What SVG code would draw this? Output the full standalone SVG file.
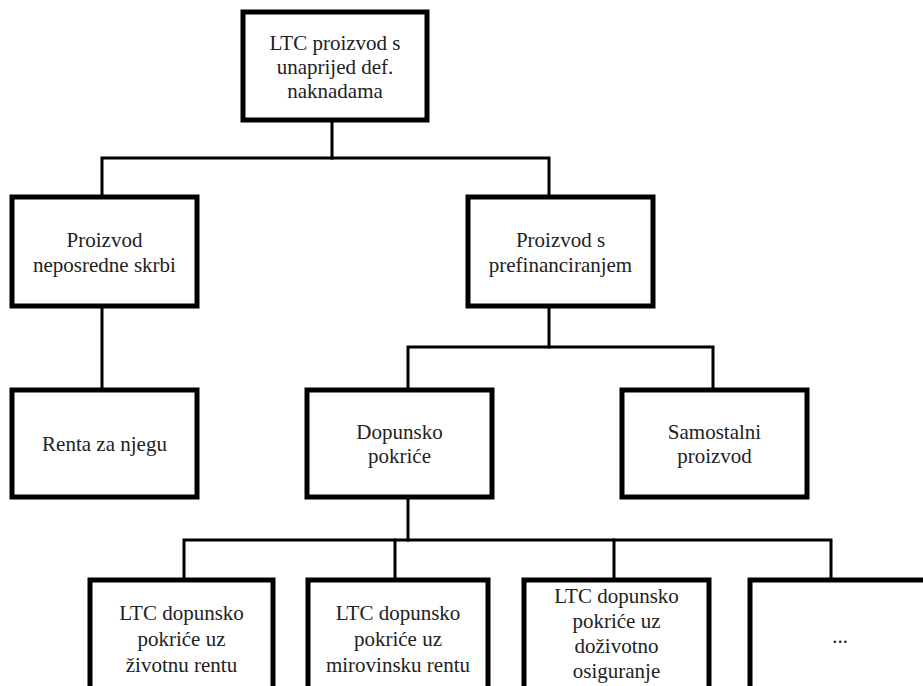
<svg xmlns="http://www.w3.org/2000/svg" width="923" height="686" viewBox="0 0 923 686">
<style>
.box{fill:#fff;stroke:#000;stroke-width:5}
.t{font-family:"Liberation Serif","Times New Roman",serif;font-size:21px;fill:#222;text-anchor:middle}
.c{fill:none;stroke:#000;stroke-width:3;stroke-linecap:square;stroke-linejoin:miter}
</style>
<rect width="923" height="686" fill="#fff"/>
<g id="connectors">
<polyline class="c" points="332,120 332,158"/>
<polyline class="c" points="102,197 102,158 549,158 549,197"/>
<polyline class="c" points="102,306 102,390"/>
<polyline class="c" points="549,306 549,347"/>
<polyline class="c" points="408,390 408,347 713,347 713,390"/>
<polyline class="c" points="408,497 408,540"/>
<polyline class="c" points="184,580 184,540 831,540 831,580"/>
<polyline class="c" points="395,540 395,580"/>
<polyline class="c" points="614,540 614,580"/>
</g>
<g id="root">
<rect class="box" x="243" y="12" width="184" height="108"/>
<text class="t" x="335" y="50">LTC proizvod s</text>
<text class="t" x="335" y="74">unaprijed def.</text>
<text class="t" x="335" y="98">naknadama</text>
</g>
<g id="neposredne">
<rect class="box" x="12" y="197" width="185" height="109"/>
<text class="t" x="104.5" y="247">Proizvod</text>
<text class="t" x="104.5" y="272">neposredne skrbi</text>
</g>
<g id="prefinanciranje">
<rect class="box" x="468" y="197" width="185" height="109"/>
<text class="t" x="560.5" y="247">Proizvod s</text>
<text class="t" x="560.5" y="272">prefinanciranjem</text>
</g>
<g id="renta">
<rect class="box" x="12" y="390" width="185" height="107"/>
<text class="t" x="104.5" y="451">Renta za njegu</text>
</g>
<g id="dopunsko">
<rect class="box" x="307" y="390" width="185" height="107"/>
<text class="t" x="399.5" y="439">Dopunsko</text>
<text class="t" x="399.5" y="463">pokriće</text>
</g>
<g id="samostalni">
<rect class="box" x="622" y="390" width="185" height="107"/>
<text class="t" x="714.5" y="439">Samostalni</text>
<text class="t" x="714.5" y="463">proizvod</text>
</g>
<g id="zivotna">
<rect class="box" x="90" y="580" width="183" height="115"/>
<text class="t" x="181.5" y="620">LTC dopunsko</text>
<text class="t" x="181.5" y="646">pokriće uz</text>
<text class="t" x="181.5" y="672">životnu rentu</text>
</g>
<g id="mirovinska">
<rect class="box" x="308" y="580" width="180" height="115"/>
<text class="t" x="398" y="620">LTC dopunsko</text>
<text class="t" x="398" y="646">pokriće uz</text>
<text class="t" x="398" y="672">mirovinsku rentu</text>
</g>
<g id="dozivotno">
<rect class="box" x="524" y="580" width="185" height="115"/>
<text class="t" x="616.5" y="603">LTC dopunsko</text>
<text class="t" x="616.5" y="628">pokriće uz</text>
<text class="t" x="616.5" y="653">doživotno</text>
<text class="t" x="616.5" y="678">osiguranje</text>
</g>
<g id="ostalo">
<rect class="box" x="750" y="580" width="185" height="115"/>
<text class="t" x="840" y="643">...</text>
</g>
</svg>
